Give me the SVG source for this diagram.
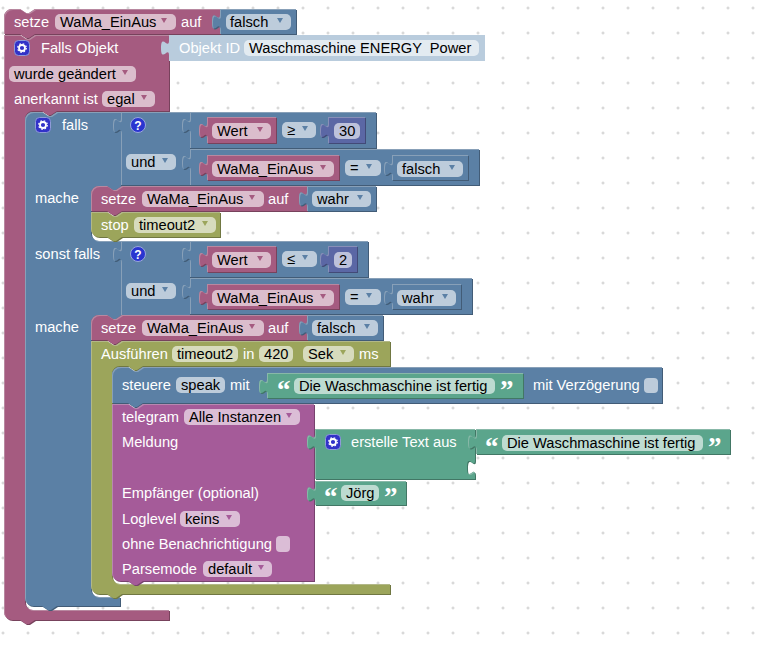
<svg xmlns="http://www.w3.org/2000/svg" xmlns:xlink="http://www.w3.org/1999/xlink" width="771" height="649" viewBox="0 0 771 649">
<style>
text{font-family:"Liberation Sans",Arial,sans-serif;font-size:14.67px;fill:#fff;white-space:pre}
text.d{fill:#000}
text.q{font-family:"Liberation Serif",serif;font-weight:bold;font-size:27px}
.bk{filter:url(#bevel)}
.m{fill:#a55b80}.b{fill:#5b80a5}.o{fill:#9ca55b}.g{fill:#5ba58c}.t{fill:#a55b99}.n{fill:#5b67a5}.l{fill:#b9ccdd}
.f{fill:#fff;fill-opacity:.6}
</style>
<defs>
<pattern id="grid" width="25" height="25" patternUnits="userSpaceOnUse" x="-9.5" y="-4.5">
<path d="M11,12.5H14M12.5,11V14" stroke="#ccc" stroke-width="1" fill="none"/>
</pattern>
<filter id="bevel" x="-5%" y="-15%" width="110%" height="130%" color-interpolation-filters="sRGB">
<feOffset in="SourceGraphic" dx="1" dy="1" result="off"/>
<feColorMatrix in="off" type="matrix" values=".72 0 0 0 0 0 .72 0 0 0 0 0 .72 0 0 0 0 0 1 0" result="dark"/>
<feComposite in="SourceGraphic" in2="off" operator="out" result="edge"/>
<feColorMatrix in="edge" type="matrix" values=".65 0 0 0 .3 0 .65 0 0 .3 0 0 .65 0 .3 0 0 0 1 0" result="light"/>
<feMerge><feMergeNode in="dark"/><feMergeNode in="SourceGraphic"/><feMergeNode in="light"/></feMerge>
</filter>
<path id="a" d="M-3,-2.5H3L0,2.5Z"/>
<g id="gear">
<rect x="0.5" y="0.5" width="15" height="15" rx="4" fill="#3232c8" stroke="#8f9bd8"/>
<circle cx="8" cy="8" r="3" fill="none" stroke="#fff" stroke-width="1.8"/>
<circle cx="8" cy="8" r="4.3" fill="none" stroke="#fff" stroke-width="1.2" stroke-dasharray="1.6 1.8"/>
</g>
<g id="ask">
<circle cx="8" cy="8" r="7.500" fill="#2a35d0" stroke="#9aa6dc"/>
<text x="8" y="12.500" text-anchor="middle" style="font-size:12px;font-weight:bold">?</text>
</g>
</defs>
<rect width="771" height="649" fill="#fff"/>
<rect width="771" height="649" fill="url(#grid)"/>

<g id="setze1">
<path class="m bk" d="M4,17a8,8 0 0 1 8,-8H20l6,4 3,0 6,-4H220V34H35l-6,4 -3,0 -6,-4H4Z"/>
<text x="14" y="27">setze</text><rect class="f" x="55" y="14" width="121" height="16" rx="5"/><text class="d" x="60" y="27">WaMa_EinAus</text><use href="#a" class="m" x="164" y="20.500"/><text x="181" y="27">auf</text>
</g>
<g id="falsch1">
<path class="b bk" d="M220,9H296V34H220V29.500c0,-10 -8,8 -8,-7.500s8,2.500 8,-7.500Z"/>
<rect class="f" x="226" y="14" width="65" height="16" rx="5"/><text class="d" x="230" y="27">falsch</text><use href="#a" class="b" x="280" y="20.500"/>
</g>

<g id="falls-objekt">
<path class="m bk" d="M4,35H20l6,4 3,0 6,-4H169V111H57l-6,4 -3,0 -6,-4H33a8,8 0 0 0 -8,8V602a8,8 0 0 0 8,8H169V620H35l-6,4 -3,0 -6,-4H12a8,8 0 0 1 -8,-8Z"/>
<use href="#gear" x="14" y="40"/><text x="41" y="53">Falls Objekt</text>
<rect class="f" x="9" y="66" width="127" height="16" rx="5"/><text class="d" x="14" y="79">wurde geändert</text><use href="#a" class="m" x="125" y="72.500"/>
<text x="14" y="104">anerkannt ist</text><rect class="f" x="102" y="91" width="53" height="16" rx="5"/><text class="d" x="107" y="104">egal</text><use href="#a" class="m" x="144" y="97.500"/>
</g>
<g id="objekt-id">
<path class="l" d="M169,35H485V61H169V55.500c0,-10 -8,8 -8,-7.500s8,2.500 8,-7.500Z"/>
<text x="179" y="53">Objekt ID</text><rect class="f" x="244" y="40" width="235" height="16" rx="5"/><text class="d" x="249" y="53">Waschmaschine ENERGY  Power</text>
</g>

<g id="falls">
<path class="b bk" d="M25,120a8,8 0 0 1 8,-8H42l6,4 3,0 6,-4H121V186H122l-6,4 -3,0 -6,-4H99a8,8 0 0 0 -8,8V233a8,8 0 0 0 8,8H121V315H122l-6,4 -3,0 -6,-4H99a8,8 0 0 0 -8,8V589a8,8 0 0 0 8,8H120V606H57l-6,4 -3,0 -6,-4H33a8,8 0 0 1 -8,-8Z"/>
<use href="#gear" x="35" y="117"/><text x="62" y="130">falls</text>
<text x="35" y="203">mache</text><text x="35" y="259">sonst falls</text><text x="35" y="332">mache</text>
</g>

<g id="und1">
<path class="b bk" d="M121,112H190V185H121V133c0,-10 -8,8 -8,-7.500s8,2.500 8,-7.500Z"/>
<use href="#ask" x="130" y="117"/><rect class="f" x="126" y="154" width="50" height="16" rx="5"/><text class="d" x="131" y="167">und</text><use href="#a" class="b" x="165" y="160.500"/>
</g>
<g id="cmp1">
<path class="b bk" d="M190,112H376V148H190V133c0,-10 -8,8 -8,-7.500s8,2.500 8,-7.500Z"/>
<path class="m bk" d="M207,117H276V143H207V138c0,-10 -8,8 -8,-7.500s8,2.500 8,-7.500Z"/>
<rect class="f" x="212" y="123" width="59" height="16" rx="5"/><text class="d" x="217" y="136">Wert</text><use href="#a" class="m" x="260" y="129.500"/>
<rect class="f" x="282" y="122" width="34" height="16" rx="5"/><text class="d" x="287" y="135">≥</text><use href="#a" class="b" x="305" y="128.500"/>
<path class="n bk" d="M328,117H365V143H328V138c0,-10 -8,8 -8,-7.500s8,2.500 8,-7.500Z"/>
<rect class="f" x="334" y="123" width="26" height="16" rx="5"/><text class="d" x="339" y="136">30</text>
</g>
<g id="cmp2">
<path class="b bk" d="M190,149H479V185H190V170c0,-10 -8,8 -8,-7.500s8,2.500 8,-7.500Z"/>
<path class="m bk" d="M207,155H339V180H207V176c0,-10 -8,8 -8,-7.500s8,2.500 8,-7.500Z"/>
<rect class="f" x="212" y="161" width="122" height="16" rx="5"/><text class="d" x="217" y="174">WaMa_EinAus</text><use href="#a" class="m" x="323" y="167.500"/>
<rect class="f" x="345" y="160" width="36" height="16" rx="5"/><text class="d" x="350" y="173">=</text><use href="#a" class="b" x="369" y="166.500"/>
<path class="b bk" d="M392,155H468V180H392V176c0,-10 -8,8 -8,-7.500s8,2.500 8,-7.500Z"/>
<rect class="f" x="397" y="161" width="66" height="16" rx="5"/><text class="d" x="402" y="174">falsch</text><use href="#a" class="b" x="452" y="167.500"/>
</g>

<g id="und2">
<path class="b bk" d="M121,241H190V315H121V262c0,-10 -8,8 -8,-7.500s8,2.500 8,-7.500Z"/>
<use href="#ask" x="130" y="246"/><rect class="f" x="126" y="283" width="50" height="16" rx="5"/><text class="d" x="131" y="296">und</text><use href="#a" class="b" x="165" y="289.500"/>
</g>
<g id="cmp3">
<path class="b bk" d="M190,241H368V277H190V262c0,-10 -8,8 -8,-7.500s8,2.500 8,-7.500Z"/>
<path class="m bk" d="M207,246H276V272H207V267c0,-10 -8,8 -8,-7.500s8,2.500 8,-7.500Z"/>
<rect class="f" x="212" y="252" width="59" height="16" rx="5"/><text class="d" x="217" y="265">Wert</text><use href="#a" class="m" x="260" y="258.500"/>
<rect class="f" x="282" y="251" width="35" height="16" rx="5"/><text class="d" x="287" y="264">≤</text><use href="#a" class="b" x="305" y="257.500"/>
<path class="n bk" d="M328,246H357V272H328V267c0,-10 -8,8 -8,-7.500s8,2.500 8,-7.500Z"/>
<rect class="f" x="334" y="252" width="18" height="16" rx="5"/><text class="d" x="339" y="265">2</text>
</g>
<g id="cmp4">
<path class="b bk" d="M190,278H472V314H190V299c0,-10 -8,8 -8,-7.500s8,2.500 8,-7.500Z"/>
<path class="m bk" d="M207,284H339V309H207V305c0,-10 -8,8 -8,-7.500s8,2.500 8,-7.500Z"/>
<rect class="f" x="212" y="290" width="122" height="16" rx="5"/><text class="d" x="217" y="303">WaMa_EinAus</text><use href="#a" class="m" x="323" y="296.500"/>
<rect class="f" x="345" y="289" width="36" height="16" rx="5"/><text class="d" x="350" y="302">=</text><use href="#a" class="b" x="369" y="295.500"/>
<path class="b bk" d="M392,284H461V309H392V305c0,-10 -8,8 -8,-7.500s8,2.500 8,-7.500Z"/>
<rect class="f" x="397" y="290" width="59" height="16" rx="5"/><text class="d" x="402" y="303">wahr</text><use href="#a" class="b" x="445" y="296.500"/>
</g>

<g id="setze2">
<path class="m bk" d="M91,194a8,8 0 0 1 8,-8H107l6,4 3,0 6,-4H307V211H122l-6,4 -3,0 -6,-4H91Z"/>
<text x="101" y="204">setze</text><rect class="f" x="142" y="191" width="122" height="16" rx="5"/><text class="d" x="147" y="204">WaMa_EinAus</text><use href="#a" class="m" x="252" y="197.500"/><text x="268" y="204">auf</text>
<path class="b bk" d="M307,186H376V211H307V206.500c0,-10 -8,8 -8,-7.500s8,2.500 8,-7.500Z"/>
<rect class="f" x="312" y="191" width="59" height="16" rx="5"/><text class="d" x="317" y="204">wahr</text><use href="#a" class="b" x="360" y="197.500"/>
</g>
<g id="stop">
<path class="o bk" d="M91,212H107l6,4 3,0 6,-4H220V237H122l-6,4 -3,0 -6,-4H99a8,8 0 0 1 -8,-8Z"/>
<text x="101" y="230">stop</text><rect class="f" x="134" y="217" width="82" height="16" rx="5"/><text class="d" x="139" y="230">timeout2</text><use href="#a" class="o" x="205" y="223.500"/>
</g>
<g id="setze3">
<path class="m bk" d="M91,323a8,8 0 0 1 8,-8H107l6,4 3,0 6,-4H307V340H122l-6,4 -3,0 -6,-4H91Z"/>
<text x="101" y="333">setze</text><rect class="f" x="142" y="320" width="122" height="16" rx="5"/><text class="d" x="147" y="333">WaMa_EinAus</text><use href="#a" class="m" x="252" y="326.500"/><text x="268" y="333">auf</text>
<path class="b bk" d="M307,315H383V340H307V335.500c0,-10 -8,8 -8,-7.500s8,2.500 8,-7.500Z"/>
<rect class="f" x="312" y="320" width="66" height="16" rx="5"/><text class="d" x="317" y="333">falsch</text><use href="#a" class="b" x="367" y="326.500"/>
</g>
<g id="ausfuehren">
<path class="o bk" d="M91,341H107l6,4 3,0 6,-4H390V366H143l-6,4 -3,0 -6,-4H120a8,8 0 0 0 -8,8V576a8,8 0 0 0 8,8H390V594H122l-6,4 -3,0 -6,-4H99a8,8 0 0 1 -8,-8Z"/>
<text x="101" y="359">Ausführen</text><rect class="f" x="172" y="346" width="66" height="16" rx="5"/><text class="d" x="177" y="359">timeout2</text>
<text x="243" y="359">in</text><rect class="f" x="259" y="346" width="34" height="16" rx="5"/><text class="d" x="264" y="359">420</text>
<rect class="f" x="303" y="346" width="51" height="16" rx="5"/><text class="d" x="308" y="359">Sek</text><use href="#a" class="o" x="343" y="352.500"/><text x="359" y="359">ms</text>
</g>
<g id="steuere">
<path class="b bk" d="M112,375a8,8 0 0 1 8,-8H128l6,4 3,0 6,-4H662V403H143l-6,4 -3,0 -6,-4H112Z"/>
<text x="122" y="390">steuere</text><rect class="f" x="176" y="377" width="49" height="16" rx="5"/><text class="d" x="181" y="390">speak</text><text x="230" y="390">mit</text>
<text x="533" y="390">mit Verzögerung</text><rect class="f" x="644" y="378" width="14" height="15" rx="4"/>
</g>
<g id="text1">
<path class="g bk" d="M267,373H523V398H267V394c0,-10 -8,8 -8,-7.500s8,2.500 8,-7.500Z"/>
<text class="q" x="277" y="399">“</text><rect class="f" x="294" y="378" width="201" height="16" rx="5"/><text class="d" x="299" y="391">Die Waschmaschine ist fertig</text><text class="q" x="500" y="399">”</text>
</g>
<g id="telegram">
<path class="t bk" d="M112,404H128l6,4 3,0 6,-4H314V581H143l-6,4 -3,0 -6,-4H120a8,8 0 0 1 -8,-8Z"/>
<text x="122" y="422">telegram</text><rect class="f" x="184" y="409" width="116" height="16" rx="5"/><text class="d" x="189" y="422">Alle Instanzen</text><use href="#a" class="t" x="289" y="415.500"/>
<text x="122" y="447">Meldung</text><text x="122" y="498">Empfänger (optional)</text>
<text x="122" y="524">Loglevel</text><rect class="f" x="180" y="511" width="60" height="16" rx="5"/><text class="d" x="185" y="524">keins</text><use href="#a" class="t" x="229" y="517.500"/>
<text x="122" y="549">ohne Benachrichtigung</text><rect class="f" x="276" y="536" width="14" height="16" rx="4"/>
<text x="122" y="574">Parsemode</text><rect class="f" x="203" y="561" width="69" height="16" rx="5"/><text class="d" x="208" y="574">default</text><use href="#a" class="t" x="261" y="567.500"/>
</g>
<g id="erstelle-text">
<path class="g bk" d="M315,429H475V460c0,10 -8,-8 -8,7.500s8,-2.500 8,7.500V479H315V449.500c0,-10 -8,8 -8,-7.500s8,2.500 8,-7.500Z"/>
<use href="#gear" x="325" y="434"/><text x="351" y="447">erstelle Text aus</text>
</g>
<g id="text2">
<path class="g bk" d="M476,429H730V454H476V449.500c0,-10 -8,8 -8,-7.500s8,2.500 8,-7.500Z"/>
<text class="q" x="485" y="456">“</text><rect class="f" x="502" y="435" width="201" height="16" rx="5"/><text class="d" x="507" y="448">Die Waschmaschine ist fertig</text><text class="q" x="708" y="456">”</text>
</g>
<g id="joerg">
<path class="g bk" d="M315,481H406V505H315V501.500c0,-10 -8,8 -8,-7.500s8,2.500 8,-7.500Z"/>
<text class="q" x="324" y="506">“</text><rect class="f" x="341" y="485" width="38" height="16" rx="5"/><text class="d" x="346" y="498">Jörg</text><text class="q" x="384" y="506">”</text>
</g>
</svg>
